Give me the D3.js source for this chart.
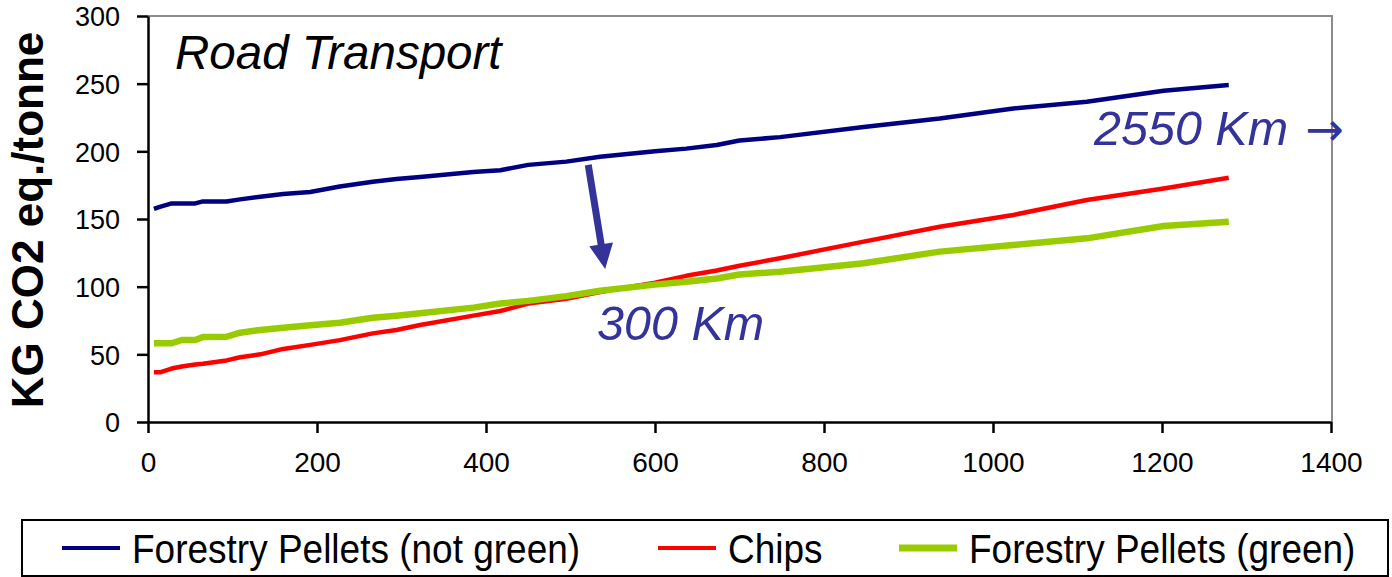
<!DOCTYPE html>
<html><head><meta charset="utf-8">
<script src="https://cdn.jsdelivr.net/npm/d3@7"></script>
<style>
body{margin:0;background:#fff;}
svg text{font-family:"Liberation Sans",Arial,sans-serif;}
</style></head>
<body><svg id="c" width="1392" height="577"></svg>
<script>
const distances = [7,14,28,40,56,65,93,109,133,160,192,227,266,294,322,385,417,450,495,535,600,637,673,700,748,847,937,1024,1111,1202,1279];
const pelletsNotGreen = [157.5,159,161.5,161.5,161.5,163,163,164.5,166.5,168.5,170,174,177.5,179.5,181,184.7,186,190,192.4,196,200,202,204.7,208,210.5,218,224.3,231.7,236.7,244.8,249];
const chips = [36.7,36.7,39.5,41,42.5,43,45.5,47.8,50,54,57,60.5,65.5,68,71.7,78.6,82,87.5,91,96,103,108,112,115.5,121,133.3,144.3,153,164,172.6,180.5];
const pelletsGreen = [58.2,58.2,58.2,60.6,60.6,62.8,63,66,68,69.7,71.5,73.4,77,78.5,80.3,84.5,87.5,89.5,93,97,101.5,103.7,106,109,111,117.3,125.9,130.8,135.7,144.8,148];
const seriesNames = ["Forestry Pellets (not green)","Chips","Forestry Pellets (green)"];
const seriesColors = ["#000080","#FF0000","#99CC00"];
const seriesWidths = [4.5,4.5,6.5];
const xTicks = [0,200,400,600,800,1000,1200,1400];
const yTicks = [0,50,100,150,200,250,300];

const svg = d3.select("#c");
const L=148,R=1331,T=16,B=422;
const x = d3.scaleLinear().domain([0,1400]).range([L,R]);
const y = d3.scaleLinear().domain([0,300]).range([B,T]);

// frame (top/right grey)
svg.append("path").attr("d",`M${L},${T}H${R+1}V${B}`).attr("fill","none").attr("stroke","#8c8c8c").attr("stroke-width",2);

// axes
const yAxis = svg.append("g").attr("transform",`translate(${L},0)`)
  .call(d3.axisLeft(y).tickValues(yTicks).tickFormat(d3.format("d")).tickSize(11).tickPadding(17).tickSizeOuter(0));
const xAxis = svg.append("g").attr("transform",`translate(0,${B})`)
  .call(d3.axisBottom(x).tickValues(xTicks).tickFormat(d3.format("d")).tickSize(11).tickPadding(19).tickSizeOuter(0));
[yAxis,xAxis].forEach(g=>{
  g.select(".domain").attr("stroke","#000").attr("stroke-width",2.5);
  g.selectAll(".tick line").attr("stroke","#000").attr("stroke-width",2.5);
  g.selectAll(".tick text").attr("fill","#000").style("font-family","'Liberation Sans',Arial,sans-serif");
});
yAxis.selectAll(".tick text").attr("font-size",27).attr("dy","0.36em");
xAxis.selectAll(".tick text").attr("font-size",28);

// lines
const series=[pelletsNotGreen,chips,pelletsGreen];
const line = d3.line().x((d,i)=>x(distances[i])).y(d=>y(d));
series.forEach((s,k)=>{
  svg.append("path").datum(s).attr("d",line).attr("fill","none")
    .attr("stroke",seriesColors[k]).attr("stroke-width",seriesWidths[k]).attr("stroke-linejoin","round");
});

// y title
svg.append("text").attr("transform","translate(43,220) rotate(-90)").attr("text-anchor","middle")
  .attr("font-size",44).attr("font-weight","bold").attr("fill","#000").text("KG CO2 eq./tonne");

// annotations
svg.append("text").attr("x",x(32)).attr("y",69).attr("font-size",47.5).attr("font-style","italic").attr("fill","#000").text("Road Transport");
const t2550 = svg.append("text").attr("x",1094).attr("y",145).attr("font-size",48.5).attr("font-style","italic").attr("fill","#333399");
t2550.append("tspan").text("2550 Km ");
t2550.append("tspan").attr("font-family","'DejaVu Sans'").attr("font-style","normal").attr("font-size",46).attr("dx",4).text("\u2192");
svg.append("text").attr("x",597).attr("y",340).attr("font-size",48.5).attr("font-style","italic").attr("fill","#333399").text("300 Km");

// arrow
const ax0=x(521), ay0=y(190), ax1=x(541), ay1=y(113);
const ang=Math.atan2(ay1-ay0,ax1-ax0);
const headLen=25, headW=12;
const bx=ax1-headLen*Math.cos(ang), by=ay1-headLen*Math.sin(ang);
svg.append("line").attr("x1",ax0).attr("y1",ay0).attr("x2",bx+2*Math.cos(ang)).attr("y2",by+2*Math.sin(ang))
  .attr("stroke","#333399").attr("stroke-width",7);
const px=-Math.sin(ang), py=Math.cos(ang);
svg.append("path").attr("d",`M${ax1},${ay1}L${bx+px*headW},${by+py*headW}L${bx-px*headW},${by-py*headW}Z`).attr("fill","#333399");

// legend
svg.append("rect").attr("x",22).attr("y",520).attr("width",1366).attr("height",56).attr("fill","#fff").attr("stroke","#000").attr("stroke-width",2);
const legX=[62,658,899];
seriesNames.forEach((n,k)=>{
  svg.append("line").attr("x1",legX[k]).attr("x2",legX[k]+58).attr("y1",548).attr("y2",548)
    .attr("stroke",seriesColors[k]).attr("stroke-width",k==2?7:4);
  svg.append("text").attr("transform",`translate(${legX[k]+70},563) scale(1,1.12)`)
    .attr("font-size",37).attr("fill","#000").text(n);
});
</script></body></html>
